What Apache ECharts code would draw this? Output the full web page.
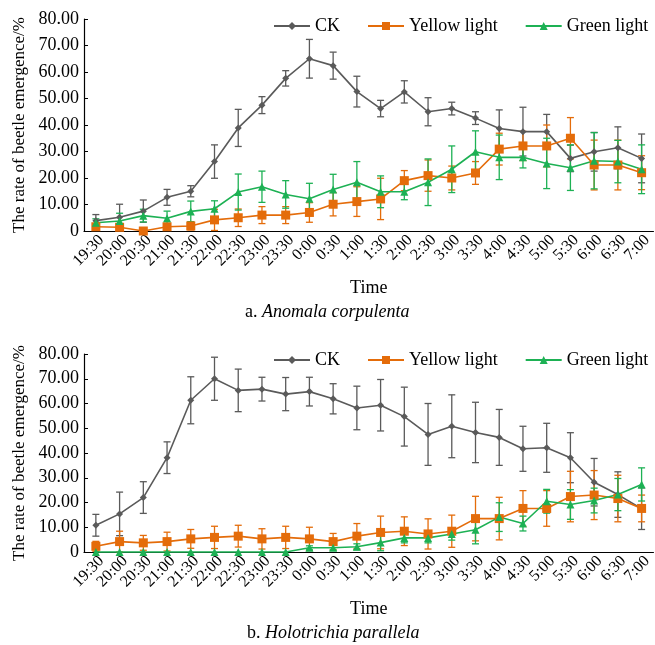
<!DOCTYPE html>
<html>
<head>
<meta charset="utf-8">
<script src="https://cdn.jsdelivr.net/npm/echarts@6/dist/echarts.min.js"></script>
<style>html,body{margin:0;padding:0;background:#fff;}#main{width:655px;height:645px;}</style>
</head>
<body>
<div id="main"></div>
<script>
const times = ['19:30','20:00','20:30','21:00','21:30','22:00','22:30','23:00','23:30','0:00','0:30','1:00','1:30','2:00','2:30','3:00','3:30','4:00','4:30','5:00','5:30','6:00','6:30','7:00'];
const yTicks = [0,10,20,30,40,50,60,70,80];

// a. Anomala corpulenta
const ckA = [3.9, 5.2, 7.5, 12.7, 15.0, 26.2, 38.9, 47.5, 57.6, 65.0, 62.4, 52.6, 46.2, 52.5, 45.0, 46.2, 42.6, 38.7, 37.5, 37.5, 27.4, 29.9, 31.4, 27.4];
const ckAErr = [2.3, 4.9, 4.2, 3.0, 2.1, 6.3, 7.0, 3.2, 2.9, 7.3, 5.1, 5.8, 3.1, 4.2, 5.3, 2.4, 2.4, 7.0, 9.2, 6.5, 5.0, 7.3, 7.9, 9.2];
const yellowA = [1.6, 1.4, 0, 1.6, 1.9, 4.2, 5.0, 6.0, 6.0, 7.0, 10.1, 11.1, 12.1, 19.0, 20.9, 20.0, 21.9, 30.9, 32.1, 32.1, 35.0, 24.9, 24.9, 22.0];
const yellowAErr = [1.0, 1.0, 0.5, 1.2, 1.5, 4.0, 3.3, 3.2, 3.2, 3.7, 4.4, 5.6, 7.8, 3.8, 5.9, 4.5, 4.3, 6.0, 5.5, 7.9, 7.8, 9.4, 9.4, 6.4];
const greenA = [3.1, 3.8, 5.8, 4.8, 7.4, 8.4, 14.7, 16.7, 13.8, 12.2, 15.7, 18.4, 14.8, 14.8, 18.4, 23.3, 29.9, 27.8, 27.8, 25.5, 23.9, 26.5, 26.2, 23.3];
const greenAErr = [1.5, 2.9, 2.4, 2.7, 3.9, 3.0, 6.8, 5.9, 5.2, 5.8, 5.7, 7.8, 6.0, 3.0, 8.8, 8.8, 7.9, 8.4, 4.0, 9.5, 8.6, 10.6, 8.0, 9.2];

// b. Holotrichia parallela
const ckB = [10.8, 15.4, 22.0, 38.1, 61.3, 70.0, 65.3, 65.8, 63.8, 64.8, 61.9, 58.2, 59.3, 54.7, 47.5, 50.8, 48.3, 46.3, 41.7, 42.1, 38.1, 28.2, 23.2, 17.5];
const ckBErr = [4.4, 8.8, 6.4, 6.4, 9.5, 8.7, 8.6, 4.8, 6.7, 5.8, 6.1, 8.8, 10.4, 11.9, 12.5, 12.7, 12.2, 11.3, 9.1, 9.9, 10.1, 9.6, 9.2, 8.4];
const yellowB = [2.3, 4.2, 3.7, 4.2, 5.3, 5.9, 6.4, 5.3, 5.9, 5.3, 4.2, 6.4, 7.9, 8.4, 7.3, 8.4, 13.5, 13.5, 17.6, 17.6, 22.4, 23.0, 21.6, 17.6];
const yellowBErr = [2.0, 4.2, 3.0, 3.8, 3.8, 4.5, 4.4, 4.1, 4.5, 4.7, 3.3, 5.1, 6.6, 5.8, 6.1, 6.5, 9.0, 8.6, 7.2, 7.2, 10.2, 9.9, 9.4, 5.4];
const greenB = [0, 0, 0, 0, 0, 0, 0, 0, 0, 1.7, 1.7, 2.1, 3.8, 5.7, 5.7, 7.3, 9.0, 14.1, 11.5, 20.5, 19.2, 20.8, 23.2, 27.3];
const greenBErr = [0, 0, 0, 0, 0, 0, 0, 0, 0, 0.8, 1.0, 1.2, 3.3, 2.0, 2.0, 2.5, 5.7, 5.8, 3.0, 4.8, 6.0, 5.0, 6.5, 6.7];

const seriesNames = ['CK', 'Yellow light', 'Green light'];
const FONT = '"Liberation Serif", "Times New Roman", serif';
const COLORS = {'CK': '#5a5a5a', 'Yellow light': '#e46c0a', 'Green light': '#1db154'};
const SYMBOLS = {'CK': ['diamond', 7], 'Yellow light': ['rect', 9], 'Green light': ['triangle', 8]};

function errRender(color) {
  return function (params, api) {
    const x = api.value(0), v = api.value(1), e = api.value(2);
    if (!e) return null;
    const t = api.coord([x, v + e]);
    const b = api.coord([x, v - e]);
    const h = 3.5;
    const st = {stroke: color, lineWidth: 1.3};
    return {type: 'group', children: [
      {type: 'line', shape: {x1: t[0], y1: t[1], x2: b[0], y2: b[1]}, style: st},
      {type: 'line', shape: {x1: t[0] - h, y1: t[1], x2: t[0] + h, y2: t[1]}, style: st},
      {type: 'line', shape: {x1: b[0] - h, y1: b[1], x2: b[0] + h, y2: b[1]}, style: st}
    ]};
  };
}

function makeSeries(idx, name, vals, errs) {
  const c = COLORS[name];
  return [
    {type: 'custom', name: name + ' error', xAxisIndex: idx, yAxisIndex: idx, z: 2,
     itemStyle: {color: c},
     renderItem: errRender(c), data: vals.map((v, i) => [i, v, errs[i]]), silent: true},
    {type: 'line', name: name, xAxisIndex: idx, yAxisIndex: idx, z: 3, color: c,
     data: vals, symbol: SYMBOLS[name][0], symbolSize: SYMBOLS[name][1],
     lineStyle: {color: c, width: 1.6}, itemStyle: {color: c}, clip: false}
  ];
}

function xAxis(idx) {
  return {type: 'category', gridIndex: idx, data: times, boundaryGap: true,
    name: 'Time', nameLocation: 'middle', nameGap: 48,
    nameTextStyle: {fontFamily: FONT, fontSize: 18, color: '#000'},
    axisLine: {lineStyle: {color: '#000', width: 1.2}},
    axisTick: {inside: true, length: 5, lineStyle: {color: '#000'}},
    axisLabel: {rotate: 45, fontFamily: FONT, fontSize: 16, color: '#000', margin: 1,
      verticalAlign: 'top', interval: 0}};
}
function yAxis(idx) {
  return {type: 'value', gridIndex: idx, min: 0, max: 80, interval: 10,
    name: 'The rate of beetle emergence/%', nameLocation: 'middle', nameGap: 54,
    nameTextStyle: {fontFamily: FONT, fontSize: 17, color: '#000'},
    axisLine: {show: true, lineStyle: {color: '#000', width: 1.2}},
    axisTick: {show: true, inside: true, length: 4, lineStyle: {color: '#000'}},
    splitLine: {show: false},
    axisLabel: {fontFamily: FONT, fontSize: 18, color: '#000', margin: 5,
      formatter: v => (v === 0 ? '0' : v.toFixed(2))}};
}
function legend(idx, top) {
  return {data: seriesNames, left: 268, top: top, itemWidth: 36, itemHeight: 10, itemGap: 27,
    textStyle: {fontFamily: FONT, fontSize: 18, color: '#000'}};
}
const rich = {
  n: {fontFamily: FONT, fontSize: 18, fontWeight: 'normal', color: '#000'},
  i: {fontFamily: FONT, fontSize: 18, fontWeight: 'normal', fontStyle: 'italic', color: '#000'}
};

const option = {
  animation: false,
  backgroundColor: '#fff',
  grid: [
    {left: 84, right: 0, top: 19, height: 212},
    {left: 84, right: 0, top: 354, height: 198}
  ],
  xAxis: [xAxis(0), xAxis(1)],
  yAxis: [yAxis(0), yAxis(1)],
  legend: [legend(0, 12), legend(1, 346)],
  title: [
    {text: '{n|a. }{i|Anomala corpulenta}', left: 245, top: 303, padding: 0,
     textStyle: {fontWeight: 'normal', rich: rich}},
    {text: '{n|b. }{i|Holotrichia parallela}', left: 247, top: 624, padding: 0,
     textStyle: {fontWeight: 'normal', rich: rich}}
  ],
  series: [
    ...makeSeries(0, 'CK', ckA, ckAErr),
    ...makeSeries(0, 'Yellow light', yellowA, yellowAErr),
    ...makeSeries(0, 'Green light', greenA, greenAErr),
    ...makeSeries(1, 'CK', ckB, ckBErr),
    ...makeSeries(1, 'Yellow light', yellowB, yellowBErr),
    ...makeSeries(1, 'Green light', greenB, greenBErr)
  ]
};
const chart = echarts.init(document.getElementById('main'), null, {renderer: 'canvas'});
chart.setOption(option);
</script>
</body>
</html>
